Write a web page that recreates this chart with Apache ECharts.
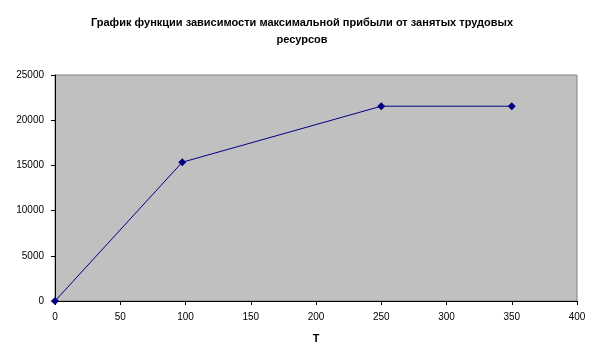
<!DOCTYPE html>
<html><head><meta charset="utf-8">
<script src="https://cdn.jsdelivr.net/npm/echarts@6/dist/echarts.min.js"></script>
<style>html,body{margin:0;padding:0;background:#fff}#c{width:604px;height:360px}</style>
</head><body><div id="c"></div>
<script>
const titleText = "График функции зависимости максимальной прибыли от занятых трудовых\nресурсов";
const xName = "T";
const xValues = [0, 97.5, 250, 350];
const yValues = [0, 15350, 21550, 21550];
const xTicks = {min: 0, max: 400, interval: 50};
const yTicks = {min: 0, max: 25000, interval: 5000};

const chart = echarts.init(document.getElementById('c'), null, {renderer: 'canvas'});
chart.setOption({
  animation: false,
  backgroundColor: '#ffffff',
  title: {
    text: titleText, left: 'center', top: 9,
    textStyle: {fontFamily: 'Arial, Liberation Sans', fontSize: 11, fontWeight: 'bold', color: '#000', lineHeight: 17}
  },
  grid: {left: 55, right: 27, top: 75, bottom: 59, show: true, backgroundColor: '#c0c0c0', borderColor: '#808080', borderWidth: 1},
  xAxis: {
    type: 'value', min: xTicks.min, max: xTicks.max, interval: xTicks.interval,
    name: xName, nameLocation: 'middle', nameGap: 32,
    nameTextStyle: {fontFamily: 'Arial, Liberation Sans', fontSize: 11, fontWeight: 'bold', color: '#000'},
    axisLine: {show: true, lineStyle: {color: '#000', width: 1}},
    axisTick: {show: true, length: 4, lineStyle: {color: '#000'}},
    axisLabel: {fontFamily: 'Arial, Liberation Sans', fontSize: 10, color: '#000', margin: 11},
    splitLine: {show: false}
  },
  yAxis: {
    type: 'value', min: yTicks.min, max: yTicks.max, interval: yTicks.interval,
    axisLine: {show: true, lineStyle: {color: '#000', width: 1}},
    axisTick: {show: true, length: 4, lineStyle: {color: '#000'}},
    axisLabel: {fontFamily: 'Arial, Liberation Sans', fontSize: 10, color: '#000', margin: 11, formatter: v => String(v)},
    splitLine: {show: false}
  },
  series: [{
    type: 'line',
    data: xValues.map((x, i) => [x, yValues[i]]),
    symbol: 'diamond', symbolSize: 8,
    lineStyle: {color: '#000080', width: 1},
    itemStyle: {color: '#000080'}
  }]
});
</script></body></html>
